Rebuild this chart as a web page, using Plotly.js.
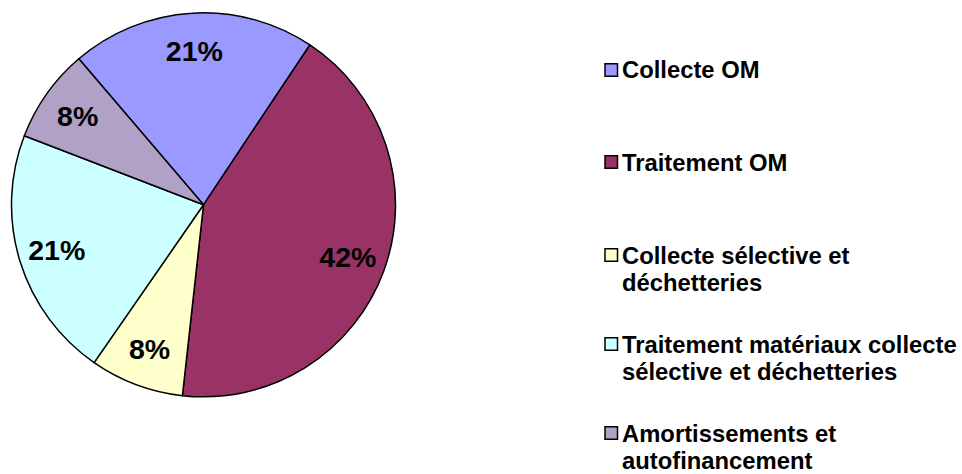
<!DOCTYPE html>
<html>
<head>
<meta charset="utf-8">
<script src="https://cdn.plot.ly/plotly-3.0.1.min.js"></script>
<style>html,body{margin:0;padding:0;background:#fff;}#chart{width:962px;height:474px;}</style>
</head>
<body>
<div id="chart"></div>
<script>
// Data
var categories = [
  "Collecte OM",
  "Traitement OM",
  "Collecte sélective et<br>déchetteries",
  "Traitement matériaux collecte<br>sélective et déchetteries",
  "Amortissements et<br>autofinancement"
];
var values = [20.6, 42.4, 7.9, 21.2, 7.9];
var colors = ["#9999FF", "#993366", "#FFFFCC", "#CCFFFF", "#B2A1C7"];

var W = 962, H = 474;
function px(x) { return x / W; }
function py(y) { return 1 - y / H; }

var dom = { x: [px(11.5), px(395.5)], y: [py(396.8), py(12.8)] };
var fontFam = "Arial, 'Liberation Sans', sans-serif";

// Filled slices (no text)
var slices = {
  type: "pie",
  labels: categories,
  values: values,
  sort: false,
  direction: "clockwise",
  rotation: -40.5,
  marker: { colors: colors, line: { color: "#000000", width: 1.5 } },
  textinfo: "none",
  domain: dom,
  showlegend: false,
  hoverinfo: "label+percent"
};

// Transparent ring on top carrying the percentage labels near the rim
var labelsRing = {
  type: "pie",
  labels: categories,
  values: values,
  sort: false,
  direction: "clockwise",
  rotation: -40.5,
  hole: 0.6,
  marker: { colors: categories.map(function () { return "rgba(0,0,0,0)"; }), line: { width: 0 } },
  textinfo: "percent",
  texttemplate: "%{percent:.0%}",
  textposition: "inside",
  insidetextorientation: "horizontal",
  textfont: { family: fontFam, size: 28.5, color: "#000000", weight: "bold" },
  domain: dom,
  showlegend: false,
  hoverinfo: "skip"
};

// Custom legend (as in the reference, with wide spacing)
var itemTop = [70, 162, 255, 344, 433];
var lineGap = 27.5;
var annotations = [];
var shapes = [];
categories.forEach(function (c, i) {
  var lines = c.split("<br>");
  lines.forEach(function (ln, j) {
    annotations.push({
      xref: "paper", yref: "paper",
      x: px(620), y: py(itemTop[i] + j * lineGap),
      xanchor: "left", yanchor: "middle",
      text: ln, showarrow: false,
      font: { family: fontFam, size: 23.8, color: "#000000", weight: "bold" }
    });
  });
  shapes.push({
    type: "rect", xref: "paper", yref: "paper",
    x0: px(605), x1: px(617.5),
    y0: py(itemTop[i] + 6.3), y1: py(itemTop[i] - 6.3),
    fillcolor: colors[i],
    line: { color: "#000000", width: 1.5 }
  });
});

var layout = {
  width: W, height: H,
  margin: { l: 0, r: 0, t: 0, b: 0 },
  paper_bgcolor: "#ffffff",
  plot_bgcolor: "#ffffff",
  showlegend: false,
  annotations: annotations,
  shapes: shapes
};

Plotly.newPlot("chart", [slices, labelsRing], layout, { displayModeBar: false, staticPlot: true });
</script>
</body>
</html>
